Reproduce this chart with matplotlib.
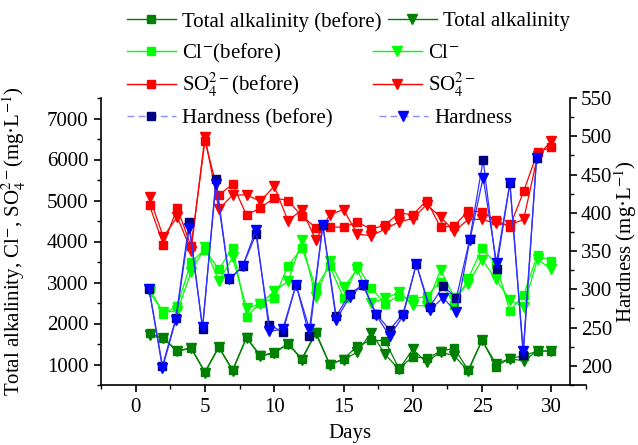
import matplotlib
matplotlib.use("Agg")
import matplotlib.pyplot as plt
from matplotlib.lines import Line2D
from matplotlib.ticker import MultipleLocator

plt.rcParams['font.family'] = ['Liberation Serif', 'DejaVu Serif']
plt.rcParams['mathtext.fontset'] = 'stix'

days = list(range(1, 31))

alk_before = [1760, 1650, 1330, 1410, 820, 1430, 870, 1660, 1220, 1290,
              1510, 1140, 1790, 1010, 1130, 1450, 1590, 1580, 900, 1190,
              1150, 1320, 1400, 860, 1600, 950, 1150, 1210, 1330, 1330]
alk_after = [1710, 1640, 1320, 1400, 800, 1420, 850, 1650, 1200, 1280,
             1500, 1120, 1760, 1000, 1120, 1300, 1780, 1250, 880, 1370,
             1050, 1310, 1210, 840, 1590, 1020, 1140, 1090, 1330, 1330]

cl_before = [2860, 2240, 2420, 3500, 3800, 3320, 3850, 2170, 2510, 2610,
             3410, 3840, 2880, 3400, 2630, 3400, 2870, 2480, 2680, 2590,
             2670, 3020, 2460, 3100, 3830, 3460, 2310, 2690, 3680, 3520]
cl_after = [2760, 2280, 2300, 3250, 3860, 3030, 3610, 2370, 2480, 2790,
            3030, 4030, 2640, 3520, 2880, 3320, 2500, 2610, 2760, 2440,
            2430, 3310, 2630, 2970, 3560, 3080, 2580, 2400, 3570, 3320]

so4_before = [4880, 3920, 4820, 3880, 6450, 5130, 5400, 4640, 4820, 5060,
              5000, 4620, 4340, 4350, 4350, 4470, 4300, 4400, 4700, 4650,
              5000, 4350, 4380, 4750, 4720, 4520, 4360, 5220, 6180, 6300]
so4_after = [5080, 4110, 4600, 3780, 6560, 4790, 5130, 5140, 4980, 5350,
             4500, 4780, 4030, 4650, 4780, 4180, 4140, 4300, 4480, 4560,
             4900, 4600, 4250, 4540, 4540, 4440, 4400, 4540, 6080, 6450]

hard_before = [301, 200, 262, 388, 248, 444, 313, 330, 372, 254,
               244, 306, 239, 384, 265, 294, 306, 268, 247, 268,
               333, 277, 304, 289, 366, 469, 327, 439, 214, 472]
hard_after = [300, 197, 260, 380, 251, 437, 313, 330, 378, 245,
              248, 306, 248, 384, 260, 290, 306, 266, 239, 265,
              333, 273, 289, 270, 364, 446, 335, 439, 220, 472]

C_ALK = '#008000'
C_CL = '#00ff00'
C_SO4 = '#ff0000'
C_HB = '#000080'
C_H = '#0000ff'
C_HLINE = '#3030ff'

W, H = 638, 445
fig = plt.figure(figsize=(W / 100, H / 100), dpi=100)
ax1 = fig.add_axes([101 / W, 60 / H, 485 / W, 287 / H])
ax2 = fig.add_axes([101 / W, 60 / H, 469 / W, 287 / H], facecolor='none')

ms_sq = 6
ms_tr = 7
lw = 0.9

ax1.plot(days, alk_before, '-', color=C_ALK, lw=lw, marker='s', ms=ms_sq, mfc=C_ALK, mec=C_ALK)
ax1.plot(days, alk_after, '-', color=C_ALK, lw=lw, marker='v', ms=ms_tr, mfc=C_ALK, mec=C_ALK)
ax1.plot(days, cl_before, '-', color=C_CL, lw=lw, marker='s', ms=ms_sq, mfc=C_CL, mec=C_CL)
ax1.plot(days, cl_after, '-', color=C_CL, lw=lw, marker='v', ms=ms_tr, mfc=C_CL, mec=C_CL)
ax1.plot(days, so4_before, '-', color=C_SO4, lw=lw, marker='s', ms=ms_sq, mfc=C_SO4, mec=C_SO4)
ax1.plot(days, so4_after, '-', color=C_SO4, lw=lw, marker='v', ms=ms_tr, mfc=C_SO4, mec=C_SO4)

ax2.plot(days, hard_before, '-', color=C_HLINE, lw=lw, marker='s', ms=ms_sq, mfc=C_HB, mec=C_HB)
ax2.plot(days, hard_after, '-', color=C_HLINE, lw=lw, marker='v', ms=ms_tr, mfc=C_H, mec=C_H)

ax1.set_xlim(-2.5, 32.5)
ax1.set_ylim(500, 7500)
ax2.set_xlim(-2.6, 32.5)
ax2.set_ylim(175, 550)

for s in ['top', 'right']:
    ax1.spines[s].set_visible(False)
for s in ['top', 'left', 'bottom']:
    ax2.spines[s].set_visible(False)
for sp in list(ax1.spines.values()) + list(ax2.spines.values()):
    sp.set_linewidth(1.2)

ax1.xaxis.set_major_locator(MultipleLocator(5))
ax1.xaxis.set_minor_locator(MultipleLocator(2.5))
ax1.yaxis.set_major_locator(MultipleLocator(1000))
ax1.yaxis.set_minor_locator(MultipleLocator(500))
ax2.yaxis.set_major_locator(MultipleLocator(50))
ax2.yaxis.set_minor_locator(MultipleLocator(25))
ax2.set_xticks([])
ax2.yaxis.tick_right()
ax2.yaxis.set_label_position('right')

ax1.tick_params(which='major', direction='out', length=5, width=1.2, labelsize=15, pad=4)
ax1.tick_params(which='minor', direction='out', length=3, width=1.0)
ax2.tick_params(which='major', direction='out', length=5, width=1.2, labelsize=15, pad=3)
ax2.tick_params(which='minor', direction='out', length=3, width=1.0)

ax1.set_xlabel('Days', fontsize=15)
ax1.xaxis.set_label_coords(0.513, -0.135)
ax1.set_ylabel(r'Total alkalinity, Cl$^{-}$, SO$_{4}^{2-}$(mg·L$^{-1}$)', fontsize=15)
ax1.yaxis.set_label_coords(-0.15, 0.5)
ax2.set_ylabel(r'Hardness (mg·L$^{-1}$)', fontsize=15)
ax2.yaxis.set_label_coords(1.09, 0.5)

def entry(handle, label, px, py):
    fig.legend(handles=[handle], labels=[label], loc='center left',
               bbox_to_anchor=(px / W, 1 - py / H), frameon=False,
               borderpad=0, borderaxespad=0, handlelength=2.35,
               handletextpad=0.3, fontsize=15, numpoints=1)

entry(Line2D([], [], color=C_ALK, lw=1, marker='s', ms=ms_sq, mfc=C_ALK, mec=C_ALK),
      'Total alkalinity (before)', 127, 21.7)
entry(Line2D([], [], color=C_CL, lw=1, marker='s', ms=ms_sq, mfc=C_CL, mec=C_CL),
      r'Cl$^{-}$(before)', 127, 53.3)
entry(Line2D([], [], color=C_SO4, lw=1, marker='s', ms=ms_sq, mfc=C_SO4, mec=C_SO4),
      r'SO$_{4}^{2-}$(before)', 127, 85)
entry(Line2D([], [], color='#8c8cff', lw=1, ls=(0, (5, 3)), marker='s', ms=ms_sq, mfc=C_HB, mec=C_HB),
      'Hardness (before)', 127, 118.3)
entry(Line2D([], [], color=C_ALK, lw=1, marker='v', ms=ms_tr, mfc=C_ALK, mec=C_ALK),
      'Total alkalinity', 388, 21.7)
entry(Line2D([], [], color=C_CL, lw=1, marker='v', ms=ms_tr, mfc=C_CL, mec=C_CL),
      r'Cl$^{-}$', 373, 53.3)
entry(Line2D([], [], color=C_SO4, lw=1, marker='v', ms=ms_tr, mfc=C_SO4, mec=C_SO4),
      r'SO$_{4}^{2-}$', 373, 85)
entry(Line2D([], [], color='#8c8cff', lw=1, ls=(0, (5, 3)), marker='v', ms=ms_tr, mfc=C_H, mec=C_H),
      'Hardness', 379, 118.3)

fig.savefig('out.png', dpi=100)
